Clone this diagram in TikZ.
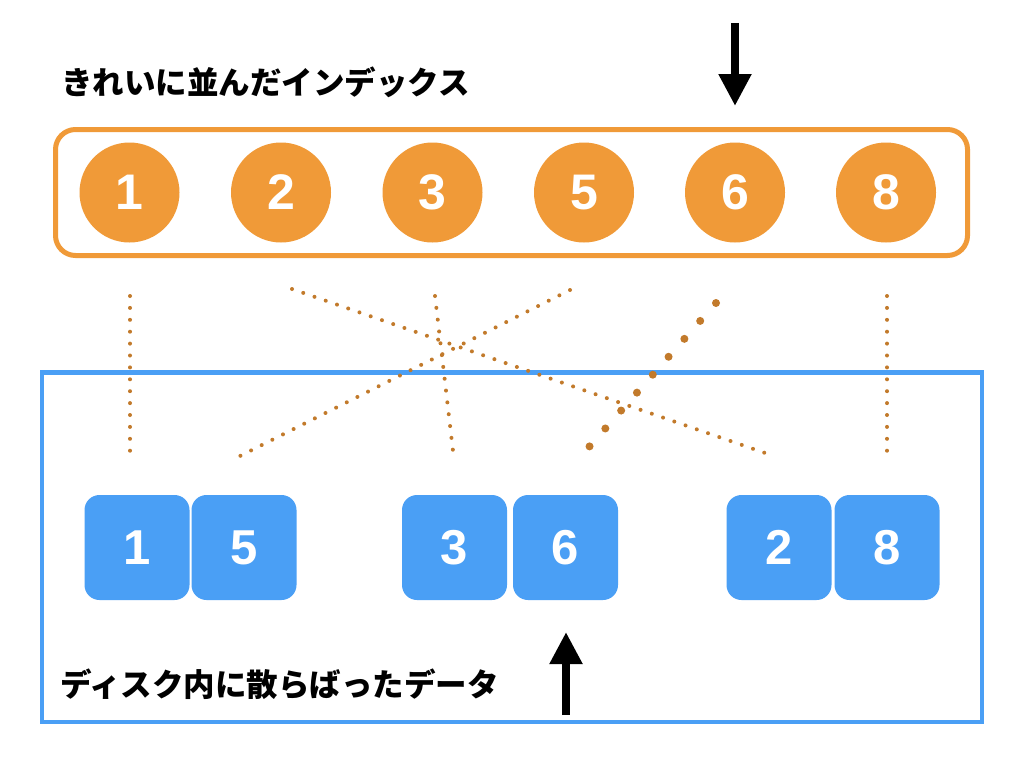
\documentclass[tikz,border=0pt]{standalone}
\usepackage{fontspec}
\newfontfamily\jp{Noto Sans CJK JP}
\newfontfamily\numfont{Liberation Sans}
\usetikzlibrary{arrows.meta}
\definecolor{orng}{RGB}{240,154,56}
\definecolor{blu}{RGB}{74,159,245}
\definecolor{dotc}{RGB}{194,122,43}
\tikzset{
  circ/.style={circle, fill=orng, minimum size=100pt, inner sep=0pt, text=white,
    font=\numfont\bfseries\fontsize{50}{50}\selectfont},
  sq/.style={rectangle, rounded corners=15pt, fill=blu, minimum width=105pt, minimum height=105pt,
    inner sep=0pt, text=white, font=\numfont\bfseries\fontsize{49}{49}\selectfont},
  dotline/.style={dotc, line width=4pt, line cap=round, dash pattern=on 0pt off 11.9pt},
  bigdotline/.style={dotc, line width=8pt, line cap=round, dash pattern=on 0pt off 23.9pt},
  arr/.style={black, line width=8pt, -{Triangle[width=31pt,length=32pt]}},
  jptext/.style={anchor=west, inner sep=0pt, font=\jp\bfseries\fontsize{31.5}{36}\selectfont}
}
\begin{document}
\begin{tikzpicture}[x=1pt,y=-1pt]
\useasboundingbox[fill=white] (0,0) rectangle (1024,768);
% title
\node[jptext] (title) at (61,82) {きれいに並んだインデックス};
% index box
\draw[orng, line width=5pt, rounded corners=20pt] (55.5,129.5) rectangle (967.5,255.5);
\node[circ] (c1) at (129.5,192.5) {1};
\node[circ] (c2) at (281,192.5) {2};
\node[circ] (c3) at (432.5,192.5) {3};
\node[circ] (c5) at (584,192.5) {5};
\node[circ] (c6) at (735,192.5) {6};
\node[circ] (c8) at (886,192.5) {8};
% top arrow
\coordinate (ta1) at (735,23);
\coordinate (ta2) at (735,106);
\draw[arr] (ta1) -- (ta2);
% disk box
\draw[blu, line width=4.5pt] (42,372.5) rectangle (982,722);
\node[sq] (s1) at (137,547.5) {1};
\node[sq] (s5) at (244,547.5) {5};
\node[sq] (s3) at (454.5,547.5) {3};
\node[sq] (s6) at (565.5,547.5) {6};
\node[sq] (s2) at (779,547.5) {2};
\node[sq] (s8) at (887,547.5) {8};
% bottom text
\node[jptext] (btext) at (60,684) {ディスク内に散らばったデータ};
% bottom arrow
\coordinate (ba1) at (566,715);
\coordinate (ba2) at (566,632);
\draw[arr] (ba1) -- (ba2);
% dotted links
\coordinate (d1a) at (130,296); \coordinate (d1b) at (130,452);
\coordinate (d2a) at (292,289); \coordinate (d2b) at (768,454);
\coordinate (d3a) at (570,290); \coordinate (d3b) at (238,457);
\coordinate (d4a) at (435,296); \coordinate (d4b) at (453,451);
\coordinate (d5a) at (716,303); \coordinate (d5b) at (589,447);
\coordinate (d6a) at (887,296); \coordinate (d6b) at (887,452);
\draw[dotline] (d1a) -- (d1b);
\draw[dotline] (d2a) -- (d2b);
\draw[dotline] (d3a) -- (d3b);
\draw[dotline] (d4a) -- (d4b);
\draw[bigdotline] (d5a) -- (d5b);
\draw[dotline] (d6a) -- (d6b);
\end{tikzpicture}
\end{document}
